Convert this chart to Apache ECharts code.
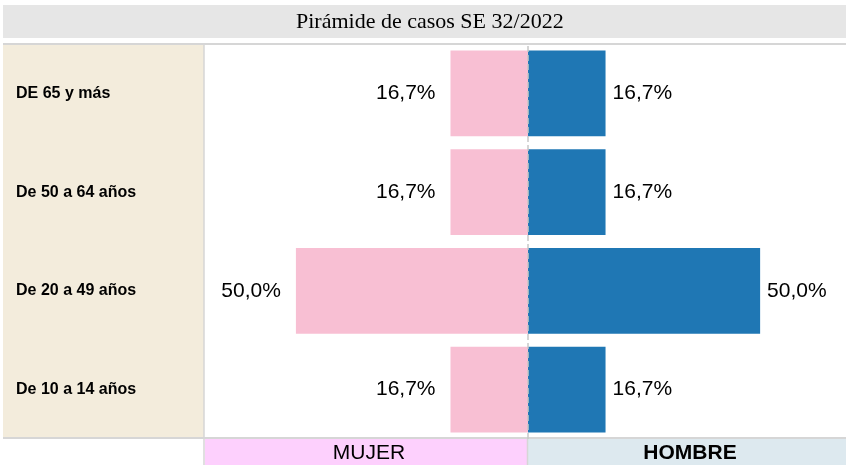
<!DOCTYPE html>
<html>
<head>
<meta charset="utf-8">
<script src="https://cdn.jsdelivr.net/npm/echarts@6/dist/echarts.min.js"></script>
<style>
html,body{margin:0;padding:0;background:#fff;}
#chart{width:846px;height:465px;}
</style>
</head>
<body>
<div id="chart"></div>
<script>
const titleText = 'Pirámide de casos SE 32/2022';
const categories = ['De 10 a 14 años', 'De 20 a 49 años', 'De 50 a 64 años', 'DE 65 y más'];
const mujer = [16.7, 50.0, 16.7, 16.7];
const hombre = [16.7, 50.0, 16.7, 16.7];
const legendMujer = 'MUJER';
const legendHombre = 'HOMBRE';

const chart = echarts.init(document.getElementById('chart'), null, {renderer: 'canvas'});
const fmt = v => Math.abs(v.value).toFixed(1).replace('.', ',') + '%';
const H = 465;
const gridLeft = 204, gridTop = 44, gridBottomY = 439;

chart.setOption({
  animation: false,
  backgroundColor: '#ffffff',
  title: {
    text: titleText,
    left: 296,
    top: 11,
    padding: 0,
    textStyle: {fontFamily: 'Liberation Serif', fontWeight: 'normal', fontSize: 22, color: '#000'}
  },
  grid: {left: gridLeft, right: 0, top: gridTop, bottom: H - gridBottomY},
  xAxis: {
    type: 'value', min: -69.8, max: 68.5,
    axisLabel: {show: false}, axisLine: {show: false}, axisTick: {show: false}, splitLine: {show: false}
  },
  yAxis: {
    type: 'category', data: categories,
    axisLine: {show: false}, axisTick: {show: false},
    axisLabel: {align: 'left', margin: 188, fontFamily: 'Liberation Sans', fontWeight: 'bold', fontSize: 16, color: '#000'}
  },
  graphic: [
    {type: 'rect', z: -10, shape: {x: 3, y: 5, width: 843, height: 33}, style: {fill: '#e6e6e6'}},
    {type: 'rect', z: -10, shape: {x: 3, y: 45, width: 201, height: 392}, style: {fill: '#f3ecdc'}},
    {type: 'line', z: -5, shape: {x1: 3, y1: 44, x2: 846, y2: 44}, style: {stroke: '#d6d6d6', lineWidth: 2}},
    {type: 'line', z: -5, shape: {x1: 3, y1: 438, x2: 846, y2: 438}, style: {stroke: '#d6d6d6', lineWidth: 2}},
    {type: 'line', z: -5, shape: {x1: 204, y1: 45, x2: 204, y2: 465}, style: {stroke: '#d6d6d6', lineWidth: 1.5}},
    {type: 'rect', z: -10, shape: {x: 205, y: 439, width: 322, height: 26}, style: {fill: '#fdd0fd'}},
    {type: 'rect', z: -10, shape: {x: 528, y: 439, width: 318, height: 26}, style: {fill: '#dde9ef'}},
    {type: 'line', z: -5, shape: {x1: 527.5, y1: 439, x2: 527.5, y2: 465}, style: {stroke: '#d6d6d6', lineWidth: 1.5}},
    {type: 'text', style: {text: legendMujer, x: 369, y: 453, align: 'center', verticalAlign: 'middle', fontFamily: 'Liberation Sans', fontSize: 21, fill: '#000'}},
    {type: 'text', style: {text: legendHombre, x: 690, y: 453, align: 'center', verticalAlign: 'middle', fontFamily: 'Liberation Sans', fontWeight: 'bold', fontSize: 21, fill: '#000'}}
  ],
  series: [
    {
      name: legendMujer, type: 'bar', stack: 'p', barCategoryGap: '13%',
      data: mujer.map(v => -v),
      itemStyle: {color: '#f8bfd3'},
      label: {show: true, position: 'left', distance: 15, formatter: fmt, fontFamily: 'Liberation Sans', fontSize: 21, color: '#000'},
      markLine: {
        silent: true, symbol: 'none', label: {show: false},
        lineStyle: {color: '#c8c8c8', type: 'dashed', width: 1.5},
        data: [{xAxis: 0}]
      }
    },
    {
      name: legendHombre, type: 'bar', stack: 'p', barCategoryGap: '13%',
      data: hombre,
      itemStyle: {color: '#1f77b4'},
      label: {show: true, position: 'right', distance: 7, formatter: fmt, fontFamily: 'Liberation Sans', fontSize: 21, color: '#000'}
    }
  ]
});
</script>
</body>
</html>
